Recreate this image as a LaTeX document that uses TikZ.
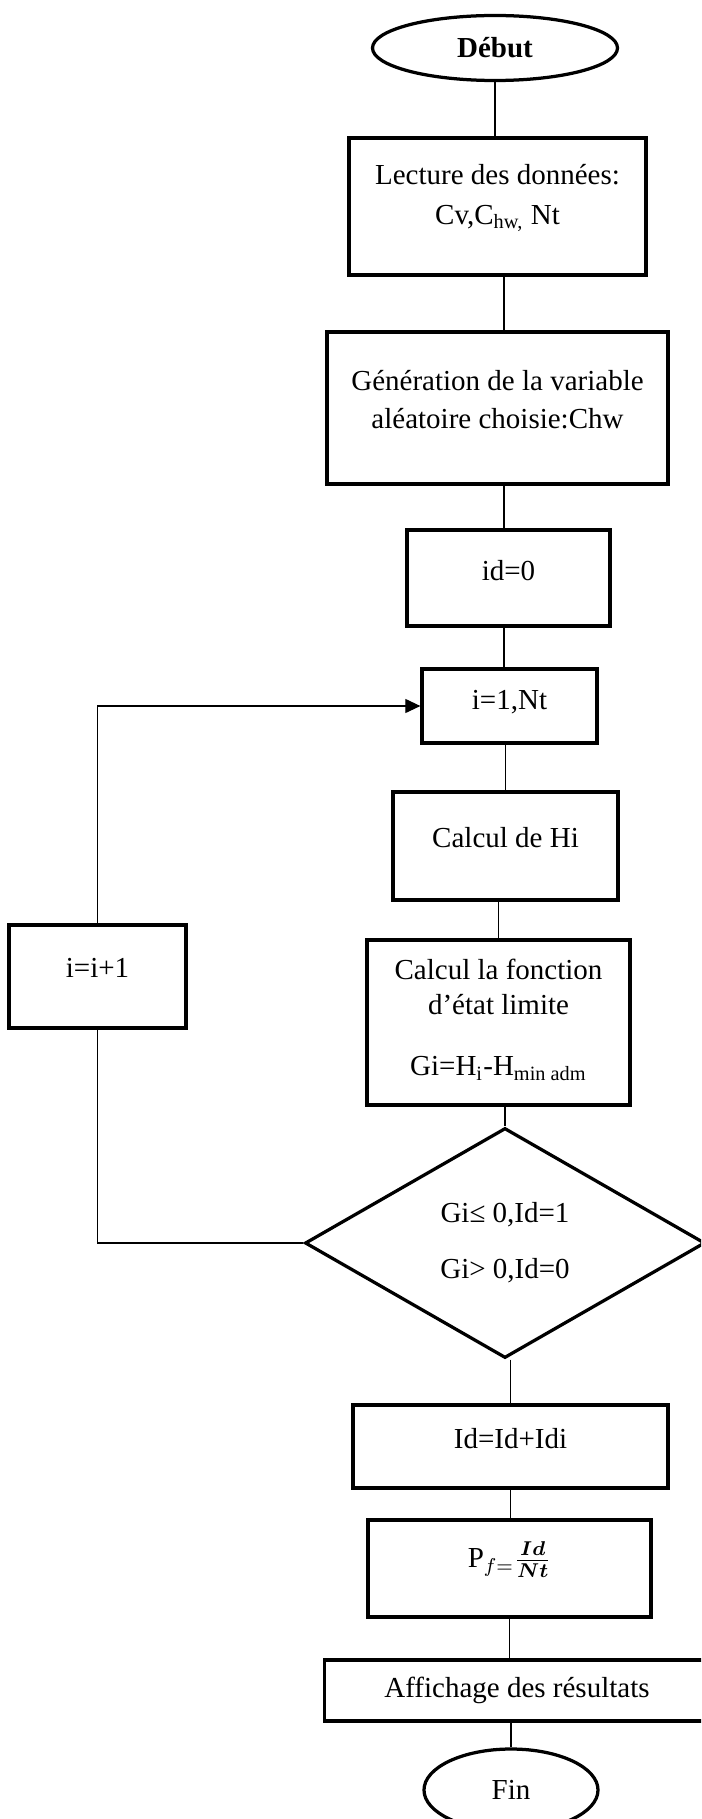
\documentclass[tikz,border=0pt]{standalone}
\usepackage{fontspec}
\setmainfont{Liberation Serif}
\usepackage{amsmath}
\usetikzlibrary{
  arrows.meta,
  shapes.geometric,
  calc
}
\tikzset{
  procbox/.style={draw, line width=1.3pt, inner sep=0pt, align=center},
  termbox/.style={draw, ellipse, line width=1.3pt, inner sep=0pt},
  testbox/.style={draw, diamond, line width=1.3pt, inner sep=0pt,
    shape aspect=1.7, align=center},
  link/.style={line width=0.45pt},
  arr/.style={-{Triangle[length=6pt, width=5.6pt]}, line width=0.45pt},
}
\newcommand{\padbelow}[1]{\rule[-#1]{0pt}{#1}}

\begin{document}
\begin{tikzpicture}[x=0.4pt, y=-0.4pt,
  every node/.style={font=\fontsize{11.6}{13.4}\selectfont}]
  \path[use as bounding box, clip] (0,0) rectangle (701,1819);
  \coordinate (spine) at (504,0);

  % main column
  \node[termbox, minimum width=98pt, minimum height=26pt] (debut) at (495,48) {\textbf{Début}};
  \node[procbox, minimum width=118.8pt, minimum height=54.8pt] (lecture) at (497.5,206.5)
    {Lecture des données:\\[2.6pt]Cv,C\textsubscript{hw,} Nt\padbelow{10pt}};
  \node[procbox, minimum width=136.4pt, minimum height=60.8pt] (gen) at (497.5,408)
    {Génération de la variable\\[1.8pt]aléatoire choisie:Chw\padbelow{7.2pt}};
  \node[procbox, minimum width=81.2pt, minimum height=38.4pt] (idzero) at (508.5,578)
    {id=0\padbelow{6.4pt}};
  \node[procbox, minimum width=70pt, minimum height=29.6pt] (loop) at (509.5,706)
    {i=1,Nt\padbelow{4.7pt}};
  \node[procbox, minimum width=90pt, minimum height=43.2pt] (calchi) at (505.5,846)
    {Calcul de Hi\padbelow{7.2pt}};
  \node[procbox, minimum width=105.2pt, minimum height=66pt] (etat) at (498.5,1022.5)
    {Calcul la fonction\\[0.6pt]d’état limite\\[11pt]Gi=H\textsubscript{i}-H\textsubscript{min adm}\padbelow{4pt}};
  \node[testbox, minimum width=160pt, minimum height=92pt] (test) at (505,1243)
    {Gi≤ 0,Id=1\\[9pt]Gi> 0,Id=0};
  \node[procbox, minimum width=126pt, minimum height=33.2pt] (cumul) at (510.5,1446.5)
    {Id=Id+Idi\padbelow{6.8pt}};
  \node[procbox, minimum width=113.2pt, minimum height=38.8pt] (pf) at (509.5,1568.5)
    {P$_{f=}\frac{\boldsymbol{Id}}{\boldsymbol{Nt}}$\padbelow{11pt}};
  \node[procbox, minimum width=154pt, minimum height=24.4pt] (affich) at (517,1690.5)
    {Affichage des résultats};
  \node[termbox, minimum width=69.6pt, minimum height=32.8pt] (fin) at (511,1790) {Fin};

  % loop back
  \node[procbox, minimum width=70.8pt, minimum height=41.2pt] (incr) at (97.5,976.5)
    {i=i+1\padbelow{6.8pt}};

  % connectors
  \draw[link] (debut.south) -- (debut.south |- lecture.north);
  \draw[link] (lecture.south -| spine) -- (gen.north -| spine);
  \draw[link] (gen.south -| spine) -- (idzero.north -| spine);
  \draw[link] (idzero.south -| spine) -- (loop.north -| spine);
  \draw[link] (loop.south -| calchi) -- (calchi.north);
  \draw[link] (calchi.south -| etat) -- (etat.north);
  \draw[link] (etat.south -| test) -- (test.north);
  \draw[link] (test.south -| cumul) -- (cumul.north);
  \draw[link] (cumul.south) -- (cumul.south |- pf.north);
  \draw[link] (pf.south) -- (pf.south |- affich.north);
  \draw[link] (affich.south -| fin) -- (fin.north);
  \draw[link] (test.west) -| (incr.south);
  \draw[arr] (incr.north) |- (loop.west);
\end{tikzpicture}
\end{document}
